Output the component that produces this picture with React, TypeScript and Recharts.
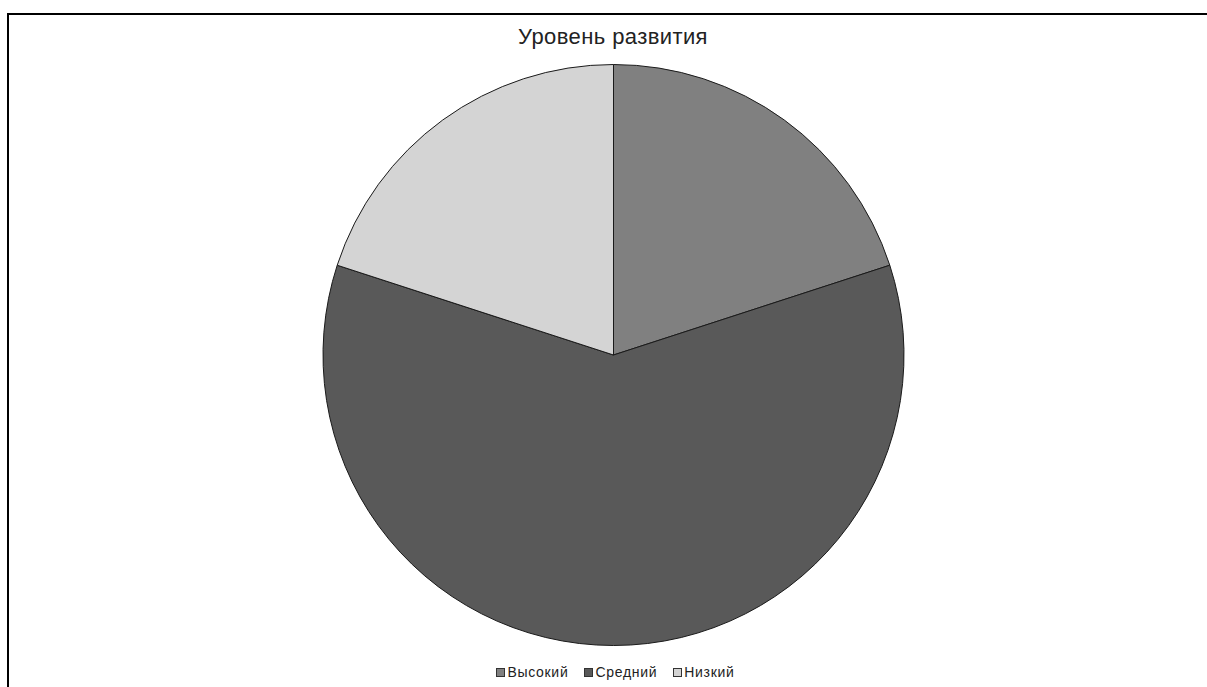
import React from "react";
import { PieChart, Pie, Cell, Legend } from "recharts";

const categories = ["Высокий", "Средний", "Низкий"];
const values = [20, 60, 20];
const colors = ["#808080", "#595959", "#d4d4d4"];
const title = "Уровень развития";

const data = categories.map((name, i) => ({ name, value: values[i] }));

const FONT = "'Liberation Sans', Arial, sans-serif";

const renderLegend = () => (
  <div
    style={{
      display: "flex",
      justifyContent: "center",
      alignItems: "center",
      fontFamily: FONT,
      fontSize: 14,
      letterSpacing: 0.7,
      color: "#222",
      paddingLeft: 24,
    }}
  >
    {categories.map((c, i) => (
      <div key={c} style={{ display: "flex", alignItems: "center", marginRight: i < categories.length - 1 ? 16 : 0 }}>
        <span
          style={{
            display: "inline-block",
            width: 7,
            height: 7,
            background: colors[i],
            border: "1px solid #333",
            marginRight: 2,
          }}
        />
        <span>{c}</span>
      </div>
    ))}
  </div>
);

export default function App() {
  return (
    <div style={{ position: "fixed", left: 0, top: 0, width: 1207, height: 687, overflow: "hidden", background: "#fff" }}>
      <div
        style={{
          position: "absolute",
          left: 7,
          top: 13,
          width: 1400,
          height: 900,
          borderTop: "2px solid #000",
          borderLeft: "2px solid #000",
        }}
      />
      <div style={{ position: "absolute", left: 0, top: 0 }}>
        <PieChart width={1207} height={687} margin={{ top: 0, right: 0, bottom: 0, left: 0 }}>
          <text x={613} y={44} textAnchor="middle" fontFamily={FONT} fontSize={22} letterSpacing={0.4} fill="#222">
            {title}
          </text>
          <Pie
            data={data}
            dataKey="value"
            nameKey="name"
            cx={613.5}
            cy={355}
            outerRadius={290.5}
            startAngle={90}
            endAngle={-270}
            stroke="#1a1a1a"
            strokeWidth={1}
            isAnimationActive={false}
          >
            {data.map((d, i) => (
              <Cell key={d.name} fill={colors[i]} />
            ))}
          </Pie>
          <Legend
            content={renderLegend}
            wrapperStyle={{ position: "absolute", left: 0, top: 664, width: 1207 }}
          />
        </PieChart>
      </div>
    </div>
  );
}
